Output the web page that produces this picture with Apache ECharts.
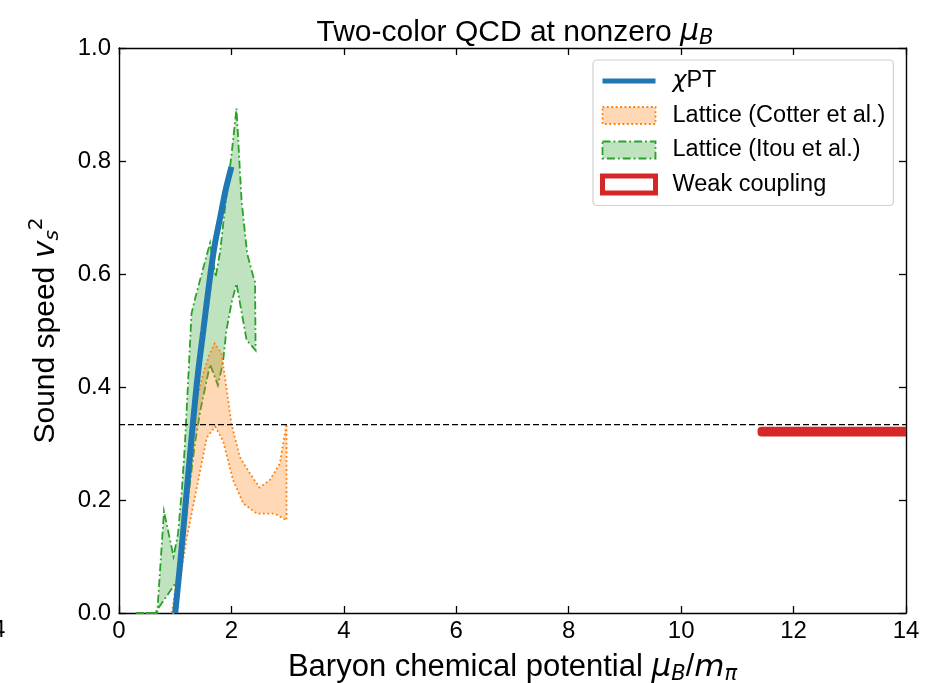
<!DOCTYPE html>
<html><head><meta charset="utf-8">
<script src="https://cdn.jsdelivr.net/npm/echarts@6/dist/echarts.min.js"></script>
<style>html,body{margin:0;padding:0;background:#fff}#c{width:927px;height:683px}</style>
</head><body><div id="c"></div>
<script>
// chiral perturbation theory curve
const chiX = [1.0, 1.1, 1.2, 1.3, 1.4, 1.5, 1.6, 1.7, 1.8, 1.9, 2.0];
const chiY = [0.0, 0.10, 0.21, 0.32, 0.42, 0.50, 0.58, 0.65, 0.70, 0.75, 0.79];
// Lattice (Itou et al.) band
const itouUpX = [0.30, 0.68, 0.80, 0.97, 1.05, 1.12, 1.17, 1.25, 1.29, 1.35, 1.47, 1.62, 1.72, 1.80, 1.90, 2.00, 2.09, 2.18, 2.28, 2.39, 2.42];
const itouUpY = [0.0, 0.0, 0.18, 0.10, 0.14, 0.22, 0.294, 0.45, 0.53, 0.555, 0.60, 0.655, 0.595, 0.64, 0.73, 0.81, 0.893, 0.73, 0.636, 0.595, 0.586];
const itouLoX = [0.30, 0.64, 0.96, 1.05, 1.15, 1.25, 1.35, 1.45, 1.62, 1.76, 1.85, 1.91, 2.00, 2.09, 2.27, 2.43];
const itouLoY = [0.0, 0.0, 0.046, 0.06, 0.13, 0.22, 0.30, 0.36, 0.44, 0.403, 0.444, 0.50, 0.548, 0.583, 0.483, 0.465];
// Lattice (Cotter et al.) band
const cotterUpX = [0.94, 1.0, 1.1, 1.2, 1.32, 1.5, 1.6, 1.7, 1.82, 1.91, 2.0, 2.15, 2.33, 2.5, 2.68, 2.86, 2.98];
const cotterUpY = [0.0, 0.04, 0.12, 0.24, 0.35, 0.425, 0.455, 0.477, 0.46, 0.40, 0.335, 0.276, 0.247, 0.222, 0.235, 0.264, 0.335];
const cotterLoX = [0.97, 1.02, 1.2, 1.38, 1.56, 1.71, 1.85, 2.03, 2.21, 2.45, 2.77, 2.98];
const cotterLoY = [0.0, 0.02, 0.13, 0.22, 0.31, 0.33, 0.305, 0.235, 0.194, 0.176, 0.176, 0.164];
// Weak coupling band
const weakX = [11.43, 14.3];
const weakUpY = [0.3225, 0.3225];
const weakLoY = [0.3195, 0.3195];
// conformal reference line
const confX = [0, 14];
const confY = [1 / 3, 1 / 3];
// axis ticks
const xTicks = [0, 2, 4, 6, 8, 10, 12, 14];
const yTicks = [0.0, 0.2, 0.4, 0.6, 0.8, 1.0];

function polygonData(upX, upY, loX, loY) {
  const pts = upX.map((x, i) => [x, upY[i]]);
  for (let i = loX.length - 1; i >= 0; i--) pts.push([loX[i], loY[i]]);
  return pts;
}
function bandSeries(name, data, style, z) {
  return {
    name, type: 'custom', z,
    data,
    encode: { x: 0, y: 1 },
    renderItem: function (params, api) {
      if (params.dataIndex !== 0) return null;
      const pts = [];
      for (let i = 0; i < data.length; i++) pts.push(api.coord([api.value(0, i), api.value(1, i)]));
      const cs = params.coordSys;
      return {
        type: 'group',
        clipPath: { type: 'rect', shape: { x: cs.x, y: cs.y - 5, width: cs.width, height: cs.height + 10 } },
        children: [{ type: 'polygon', shape: { points: pts }, style: style }]
      };
    },
    silent: true
  };
}

const FONT = 'Liberation Sans';
const MATH = 'DejaVu Sans';
const chart = echarts.init(document.getElementById('c'), null, { renderer: 'canvas' });
const axisLine = { show: true, onZero: false, lineStyle: { color: '#000', width: 1.4 } };
const axisTick = { show: true, inside: true, length: 7, lineStyle: { color: '#000', width: 1.3 } };

chart.setOption({
  animation: false,
  backgroundColor: '#fff',
  title: {
    text: 'Two-color QCD at nonzero {i|μ}{s|B}',
    left: 510, top: 11, textAlign: 'center',
    textStyle: {
      fontFamily: FONT, fontSize: 30, fontWeight: 'normal', color: '#000',
      rich: {
        i: { fontFamily: MATH, fontStyle: 'italic', fontSize: 30, color: '#000' },
        s: { fontFamily: MATH, fontStyle: 'italic', fontSize: 21, color: '#000', padding: [12, 0, 0, 0] }
      }
    }
  },
  grid: { left: 119, right: 21, top: 48, bottom: 70, containLabel: false, outerBoundsMode: 'none' },
  xAxis: [{
    type: 'value', min: 0, max: 14, interval: 2,
    axisLine, axisTick, splitLine: { show: false },
    axisLabel: { fontFamily: FONT, fontSize: 24, color: '#000', margin: 6,
      formatter: v => xTicks.includes(v) ? String(v) : '' },
    name: 'Baryon chemical potential {i|μ}{s|B}/{i|m}{s|π}',
    nameLocation: 'middle', nameGap: 37,
    nameTextStyle: { fontFamily: FONT, fontSize: 31, color: '#000',
      rich: {
        i: { fontFamily: MATH, fontStyle: 'italic', fontSize: 31, color: '#000' },
        s: { fontFamily: MATH, fontStyle: 'italic', fontSize: 21, color: '#000', padding: [14, 0, 0, 0] }
      } }
  }, {
    type: 'value', min: 0, max: 14, interval: 2, position: 'top',
    axisLine, axisTick, splitLine: { show: false }, axisLabel: { show: false }
  }],
  yAxis: [{
    type: 'value', min: 0, max: 1, interval: 0.2,
    axisLine, axisTick, splitLine: { show: false },
    axisLabel: { fontFamily: FONT, fontSize: 24, color: '#000', margin: 8,
      formatter: v => yTicks.some(t => Math.abs(t - v) < 1e-9) ? v.toFixed(1) : '' },
    name: 'Sound speed {i|v}{s|s}{p|2}',
    nameLocation: 'middle', nameGap: 54, nameRotate: 90,
    nameTextStyle: { fontFamily: FONT, fontSize: 30, color: '#000',
      rich: {
        i: { fontFamily: MATH, fontStyle: 'italic', fontSize: 30, color: '#000' },
        s: { fontFamily: MATH, fontStyle: 'italic', fontSize: 20, color: '#000', padding: [14, 0, 0, 0] },
        p: { fontFamily: MATH, fontSize: 20, color: '#000', padding: [0, 0, 18, 0] }
      } }
  }, {
    type: 'value', min: 0, max: 1, interval: 0.2, position: 'right',
    axisLine, axisTick, splitLine: { show: false }, axisLabel: { show: false }
  }],
  legend: {
    orient: 'vertical', left: 593, top: 60,
    padding: [9, 8, 9, 7], itemGap: 10.5, itemWidth: 53, itemHeight: 17,
    backgroundColor: '#fff', borderColor: '#d0d0d0', borderWidth: 1.2, borderRadius: 4,
    textStyle: { fontFamily: FONT, fontSize: 23.5, lineHeight: 24, color: '#000', padding: [0, 0, 0, 12],
      rich: { i: { fontFamily: MATH, fontStyle: 'italic', fontSize: 23.5, lineHeight: 24, color: '#000' },
              n: { fontFamily: FONT, fontSize: 23.5, lineHeight: 24, color: '#000' } } },
    formatter: function (name) { return name === 'χPT' ? '{i|χ}{n|PT}' : name; },
    data: [
      { name: 'χPT', icon: 'path://M0,0h53v5h-53z', itemStyle: { color: '#1f77b4', borderWidth: 0 } },
      { name: 'Lattice (Cotter et al.)', icon: 'rect', itemStyle: { color: 'rgba(255,127,14,0.3)', borderColor: '#ff7f0e', borderWidth: 1.8, borderType: [1.8, 2.6] } },
      { name: 'Lattice (Itou et al.)', icon: 'rect', itemStyle: { color: 'rgba(44,160,44,0.3)', borderColor: '#2ca02c', borderWidth: 1.8, borderType: [8, 3, 1.8, 3] } },
      { name: 'Weak coupling', icon: 'rect', itemStyle: { color: '#ffffff', borderColor: '#d62728', borderWidth: 5 } }
    ]
  },
  graphic: [{ type: 'text', left: -8, top: 618, style: { text: '4', fontFamily: FONT, fontSize: 24, fill: '#000' } }],
  series: [
    bandSeries('Lattice (Itou et al.)', polygonData(itouUpX, itouUpY, itouLoX, itouLoY),
      { fill: 'rgba(44,160,44,0.3)', stroke: '#2ca02c', lineWidth: 1.8, lineDash: [8, 3, 1.8, 3] }, 1),
    bandSeries('Lattice (Cotter et al.)', polygonData(cotterUpX, cotterUpY, cotterLoX, cotterLoY),
      { fill: 'rgba(255,127,14,0.3)', stroke: '#ff7f0e', lineWidth: 1.8, lineDash: [1.8, 2.6] }, 1),
    bandSeries('Weak coupling', polygonData(weakX, weakUpY, weakX, weakLoY),
      { fill: '#ffffff', stroke: '#d62728', lineWidth: 8, lineJoin: 'round' }, 2),
    {
      name: 'conformal', type: 'line', data: confX.map((x, i) => [x, confY[i]]),
      showSymbol: false, silent: true, z: 1,
      lineStyle: { color: '#000', width: 1.3, type: [6, 3] }
    },
    {
      name: 'χPT', type: 'line', data: chiX.map((x, i) => [x, chiY[i]]),
      showSymbol: false, smooth: 0.3, z: 3,
      lineStyle: { color: '#1f77b4', width: 6 }, itemStyle: { color: '#1f77b4' }
    }
  ]
});
</script></body></html>
